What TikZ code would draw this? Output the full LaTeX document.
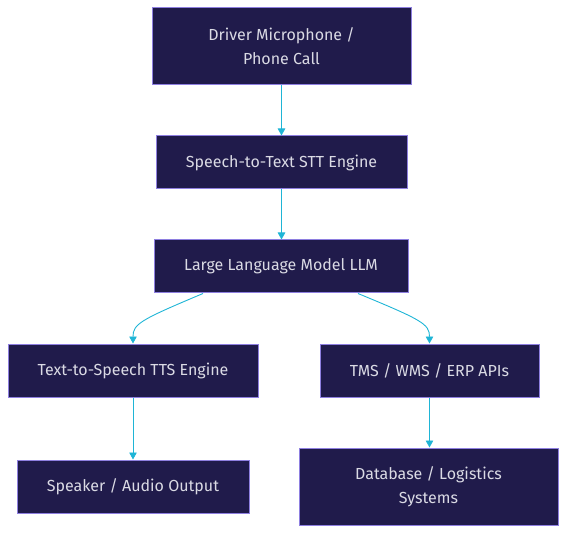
\documentclass[tikz,border=0pt]{standalone}
\usepackage{fontspec}
\setmainfont{Fira Sans}
\usetikzlibrary{arrows.meta}
\definecolor{boxfill}{HTML}{201B4B}
\definecolor{boxline}{HTML}{8E7FE0}
\definecolor{boxtext}{HTML}{DADAE4}
\definecolor{edgecol}{HTML}{1FB5D6}
\tikzset{
  procbox/.style={draw=boxline, line width=1pt, fill=boxfill, text=boxtext,
    font=\fontsize{16}{24}\selectfont, align=center, inner sep=0pt, anchor=center},
  flow/.style={draw=edgecol, line width=0.9pt, -{Triangle[length=7pt,width=7.5pt]}},
}
\begin{document}
\begin{tikzpicture}[x=1pt,y=-1pt]
\useasboundingbox (0,0) rectangle (567,534);
\node[procbox, minimum width=259pt, minimum height=77pt] (mic) at (281.5,46.5) {Driver Microphone /\\Phone Call};
\node[procbox, minimum width=251pt, minimum height=53pt] (stt) at (281.5,162.5) {Speech-to-Text STT Engine};
\node[procbox, minimum width=254pt, minimum height=53pt] (llm) at (281,266.5) {Large Language Model LLM};
\node[procbox, minimum width=250pt, minimum height=53pt] (tts) at (133,370.5) {Text-to-Speech TTS Engine};
\node[procbox, minimum width=219pt, minimum height=53pt] (api) at (429.5,370.5) {TMS / WMS / ERP APIs};
\node[procbox, minimum width=232pt, minimum height=53pt] (spk) at (133,486.5) {Speaker / Audio Output};
\node[procbox, minimum width=259pt, minimum height=77pt] (db) at (428.5,486.5) {Database / Logistics\\Systems};
\draw[flow] (mic.south) -- (mic.south |- stt.north);
\draw[flow] (stt.south) -- (stt.south |- llm.north);
\draw[flow] ([xshift=-78pt]llm.south) .. controls (140,320) and (133,324) .. (tts.north);
\draw[flow] ([xshift=77pt]llm.south) .. controls (422,320) and (429.5,324) .. (api.north);
\draw[flow] (tts.south) -- (tts.south |- spk.north);
\draw[flow] (api.south) -- (api.south |- db.north);
\end{tikzpicture}
\end{document}
